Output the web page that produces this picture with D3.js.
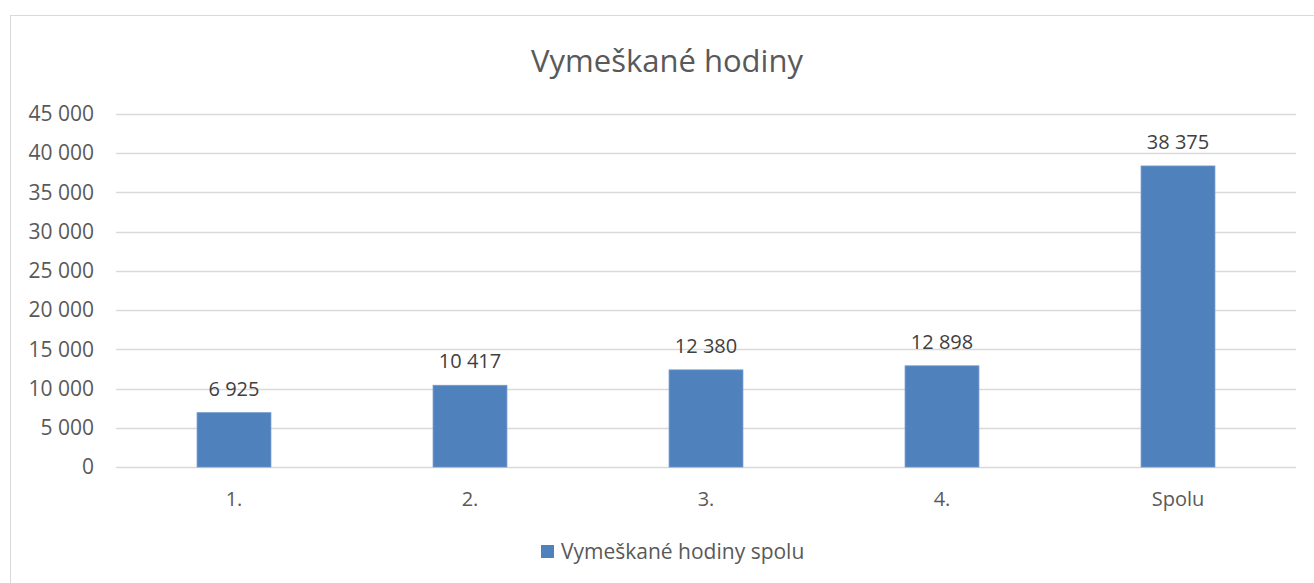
<!DOCTYPE html>
<html>
<head>
    <meta charset="utf-8">
    <title>Vymeškané hodiny</title>
    <script type="text/javascript" src="https://cdn.jsdelivr.net/npm/d3@7"></script>
    <style>
        body { margin: 0; background: #fff; }
        text { font-family: "Open Sans", "Noto Sans", sans-serif; fill: #595959; }
    </style>
</head>
<body>
<script type="text/javascript">
    var categories = ["1.", "2.", "3.", "4.", "Spolu"];
    var values = [6925, 10417, 12380, 12898, 38375];
    var yTicks = [0, 5000, 10000, 15000, 20000, 25000, 30000, 35000, 40000, 45000];
    var title = "Vymeškané hodiny";
    var seriesName = "Vymeškané hodiny spolu";

    var w = 1314, h = 583,
        plotL = 116, plotR = 1296, plotT = 114, plotB = 467,
        barColor = "#4f81bd";

    // thousands separated by a space, like the original
    var fmt = function (v) { return d3.format(",")(v).replace(/,/g, " "); };

    var svg = d3.select("body").append("svg")
        .attr("width", w)
        .attr("height", h);

    svg.append("rect")
        .attr("x", 10.5).attr("y", 15.5)
        .attr("width", w).attr("height", h)
        .style("fill", "none")
        .style("stroke", "#d9d9d9");

    var x = d3.scaleBand().domain(categories).range([plotL, plotR]).paddingInner(0.687).paddingOuter(0.3435);
    var y = d3.scaleLinear().domain([0, 45000]).range([plotB, plotT]);

    svg.append("text")
        .attr("x", 667).attr("y", 72)
        .attr("text-anchor", "middle")
        .style("font-size", "31px")
        .text(title);

    // gridlines
    svg.append("g").selectAll("line")
        .data(yTicks)
        .enter().append("line")
        .attr("x1", plotL).attr("x2", plotR)
        .attr("y1", function (d) { return Math.round(y(d)) + 0.5; })
        .attr("y2", function (d) { return Math.round(y(d)) + 0.5; })
        .style("stroke", "#d9d9d9")
        .style("stroke-width", "1.3px");

    var yAxis = svg.append("g")
        .attr("transform", "translate(" + (plotL - 22) + ",0)")
        .call(d3.axisLeft(y).tickValues(yTicks).tickFormat(fmt).tickSize(0).tickPadding(0));
    yAxis.select(".domain").remove();
    yAxis.selectAll("text").style("font-size", "21px").style("fill", "#595959");

    svg.append("g").selectAll("rect")
        .data(values)
        .enter().append("rect")
        .attr("x", function (d, i) { return x(categories[i]); })
        .attr("width", x.bandwidth())
        .attr("y", function (d) { return y(d); })
        .attr("height", function (d) { return plotB - y(d); })
        .style("fill", barColor)
        .style("stroke", "#6f99cc")
        .style("stroke-width", "0.8px");

    svg.append("g").selectAll("text")
        .data(values)
        .enter().append("text")
        .attr("x", function (d, i) { return x(categories[i]) + x.bandwidth() / 2; })
        .attr("y", function (d) { return y(d) - 17; })
        .attr("text-anchor", "middle")
        .style("font-size", "20px")
        .style("fill", "#404040")
        .text(fmt);

    var xAxis = svg.append("g")
        .attr("transform", "translate(0," + plotB + ")")
        .call(d3.axisBottom(x).tickSize(0).tickPadding(25));
    xAxis.select(".domain").remove();
    xAxis.selectAll("text").style("font-size", "20px").style("fill", "#595959");

    var legend = svg.append("g").attr("transform", "translate(541,545)");
    legend.append("rect")
        .attr("width", 13).attr("height", 13)
        .style("fill", barColor);
    legend.append("text")
        .attr("x", 20).attr("y", 14)
        .style("font-size", "21px")
        .text(seriesName);
</script>
</body>
</html>
